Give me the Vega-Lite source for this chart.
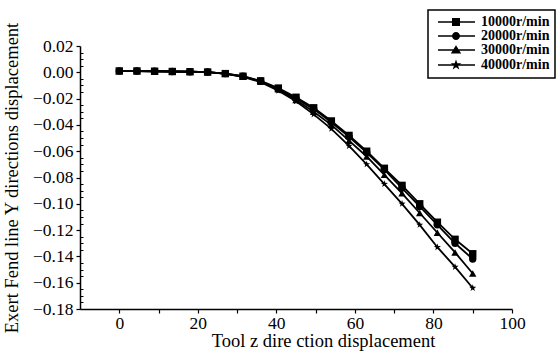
{
  "$schema": "https://vega.github.io/schema/vega-lite/v6.json",
  "width": 432,
  "height": 263,
  "padding": {"left": 2, "top": 9, "right": 3, "bottom": 2},
  "datasets": {
    "d": [
      {"x": 0, "y": 0.001, "s": "10000r/min"}, {"x": 4.5, "y": 0.001, "s": "10000r/min"}, {"x": 9, "y": 0.0008, "s": "10000r/min"}, {"x": 13.5, "y": 0.0006, "s": "10000r/min"}, {"x": 18, "y": 0.0004, "s": "10000r/min"}, {"x": 22.5, "y": 0.0002, "s": "10000r/min"}, {"x": 27, "y": -0.001, "s": "10000r/min"}, {"x": 31.5, "y": -0.003, "s": "10000r/min"}, {"x": 36, "y": -0.0065, "s": "10000r/min"}, {"x": 40.5, "y": -0.012, "s": "10000r/min"}, {"x": 45, "y": -0.019, "s": "10000r/min"}, {"x": 49.5, "y": -0.027, "s": "10000r/min"}, {"x": 54, "y": -0.037, "s": "10000r/min"}, {"x": 58.5, "y": -0.048, "s": "10000r/min"}, {"x": 63, "y": -0.060, "s": "10000r/min"}, {"x": 67.5, "y": -0.073, "s": "10000r/min"}, {"x": 72, "y": -0.086, "s": "10000r/min"}, {"x": 76.5, "y": -0.100, "s": "10000r/min"}, {"x": 81, "y": -0.114, "s": "10000r/min"}, {"x": 85.5, "y": -0.127, "s": "10000r/min"}, {"x": 90, "y": -0.138, "s": "10000r/min"},
      {"x": 0, "y": 0.001, "s": "20000r/min"}, {"x": 4.5, "y": 0.001, "s": "20000r/min"}, {"x": 9, "y": 0.0008, "s": "20000r/min"}, {"x": 13.5, "y": 0.0006, "s": "20000r/min"}, {"x": 18, "y": 0.0004, "s": "20000r/min"}, {"x": 22.5, "y": 0.0002, "s": "20000r/min"}, {"x": 27, "y": -0.001, "s": "20000r/min"}, {"x": 31.5, "y": -0.003, "s": "20000r/min"}, {"x": 36, "y": -0.0068, "s": "20000r/min"}, {"x": 40.5, "y": -0.0125, "s": "20000r/min"}, {"x": 45, "y": -0.020, "s": "20000r/min"}, {"x": 49.5, "y": -0.028, "s": "20000r/min"}, {"x": 54, "y": -0.038, "s": "20000r/min"}, {"x": 58.5, "y": -0.049, "s": "20000r/min"}, {"x": 63, "y": -0.061, "s": "20000r/min"}, {"x": 67.5, "y": -0.074, "s": "20000r/min"}, {"x": 72, "y": -0.088, "s": "20000r/min"}, {"x": 76.5, "y": -0.102, "s": "20000r/min"}, {"x": 81, "y": -0.116, "s": "20000r/min"}, {"x": 85.5, "y": -0.130, "s": "20000r/min"}, {"x": 90, "y": -0.142, "s": "20000r/min"},
      {"x": 0, "y": 0.001, "s": "30000r/min"}, {"x": 4.5, "y": 0.001, "s": "30000r/min"}, {"x": 9, "y": 0.0008, "s": "30000r/min"}, {"x": 13.5, "y": 0.0006, "s": "30000r/min"}, {"x": 18, "y": 0.0004, "s": "30000r/min"}, {"x": 22.5, "y": 0.0002, "s": "30000r/min"}, {"x": 27, "y": -0.001, "s": "30000r/min"}, {"x": 31.5, "y": -0.0032, "s": "30000r/min"}, {"x": 36, "y": -0.007, "s": "30000r/min"}, {"x": 40.5, "y": -0.013, "s": "30000r/min"}, {"x": 45, "y": -0.021, "s": "30000r/min"}, {"x": 49.5, "y": -0.030, "s": "30000r/min"}, {"x": 54, "y": -0.040, "s": "30000r/min"}, {"x": 58.5, "y": -0.052, "s": "30000r/min"}, {"x": 63, "y": -0.064, "s": "30000r/min"}, {"x": 67.5, "y": -0.078, "s": "30000r/min"}, {"x": 72, "y": -0.092, "s": "30000r/min"}, {"x": 76.5, "y": -0.107, "s": "30000r/min"}, {"x": 81, "y": -0.122, "s": "30000r/min"}, {"x": 85.5, "y": -0.137, "s": "30000r/min"}, {"x": 90, "y": -0.153, "s": "30000r/min"},
      {"x": 0, "y": 0.001, "s": "40000r/min"}, {"x": 4.5, "y": 0.001, "s": "40000r/min"}, {"x": 9, "y": 0.0008, "s": "40000r/min"}, {"x": 13.5, "y": 0.0006, "s": "40000r/min"}, {"x": 18, "y": 0.0004, "s": "40000r/min"}, {"x": 22.5, "y": 0.0002, "s": "40000r/min"}, {"x": 27, "y": -0.0012, "s": "40000r/min"}, {"x": 31.5, "y": -0.0035, "s": "40000r/min"}, {"x": 36, "y": -0.0075, "s": "40000r/min"}, {"x": 40.5, "y": -0.014, "s": "40000r/min"}, {"x": 45, "y": -0.022, "s": "40000r/min"}, {"x": 49.5, "y": -0.032, "s": "40000r/min"}, {"x": 54, "y": -0.043, "s": "40000r/min"}, {"x": 58.5, "y": -0.056, "s": "40000r/min"}, {"x": 63, "y": -0.070, "s": "40000r/min"}, {"x": 67.5, "y": -0.085, "s": "40000r/min"}, {"x": 72, "y": -0.100, "s": "40000r/min"}, {"x": 76.5, "y": -0.116, "s": "40000r/min"}, {"x": 81, "y": -0.133, "s": "40000r/min"}, {"x": 85.5, "y": -0.148, "s": "40000r/min"}, {"x": 90, "y": -0.164, "s": "40000r/min"}
    ]
  },
  "data": {"name": "d"},
  "layer": [
    {
      "mark": {"type": "line", "color": "black", "strokeWidth": 1.8},
      "encoding": {
        "x": {"field": "x", "type": "quantitative", "scale": {"domain": [-10, 100], "nice": false, "zero": false},
              "axis": {"title": "Tool z dire ction displacement", "values": [0, 10, 20, 30, 40, 50, 60, 70, 80, 90, 100], "labelExpr": "datum.value % 20 == 0 ? datum.label : ''", "labelFlush": false, "tickSize": 4, "labelPadding": 1, "titlePadding": 0, "titleX": 243}},
        "y": {"field": "y", "type": "quantitative", "scale": {"domain": [-0.18, 0.02], "nice": false, "zero": false},
              "axis": {"title": "Exert Fend line Y directions displacement", "values": [-0.18, -0.16, -0.14, -0.12, -0.1, -0.08, -0.06, -0.04, -0.02, 0, 0.02], "format": ".2f", "labelFlush": false, "tickSize": 4, "labelPadding": 3, "titlePadding": 11}},
        "detail": {"field": "s"}
      }
    },
    {
      "mark": {"type": "point", "filled": true, "color": "black", "opacity": 1},
      "encoding": {
        "x": {"field": "x", "type": "quantitative"},
        "y": {"field": "y", "type": "quantitative", "axis": null},
        "shape": {"field": "s", "type": "nominal", "legend": null,
                  "scale": {"domain": ["10000r/min", "20000r/min", "30000r/min", "40000r/min"],
                            "range": ["square", "circle", "triangle-up", "M0,-1L0.235,-0.324L0.951,-0.309L0.38,0.124L0.588,0.809L0,0.4L-0.588,0.809L-0.38,0.124L-0.951,-0.309L-0.235,-0.324Z"]}},
        "size": {"field": "s", "type": "nominal", "legend": null,
                 "scale": {"domain": ["10000r/min", "20000r/min", "30000r/min", "40000r/min"], "range": [55, 55, 70, 140]}}
      }
    },
    {
      "mark": {"type": "point", "filled": true, "color": "black", "opacity": 0},
      "encoding": {
        "x": {"field": "x", "type": "quantitative"},
        "y": {"field": "y", "type": "quantitative",
              "axis": {"orient": "left", "title": null, "labels": false, "domain": false, "tickSize": -3, "tickWidth": 1,
                       "values": [-0.175, -0.17, -0.165, -0.155, -0.15, -0.145, -0.135, -0.13, -0.125, -0.115, -0.11, -0.105, -0.095, -0.09, -0.085, -0.075, -0.07, -0.065, -0.055, -0.05, -0.045, -0.035, -0.03, -0.025, -0.015, -0.01, -0.005, 0.005, 0.01, 0.015]}},
        "shape": {"field": "s", "type": "nominal",
                  "scale": {"domain": ["10000r/min", "20000r/min", "30000r/min", "40000r/min"],
                            "range": ["M-0.5,-0.18L8.75,-0.18L8.75,0.18L-0.5,0.18ZM3,-1L5,-1L5,1L3,1Z",
                                      "M-0.5,-0.18L8.75,-0.18L8.75,0.18L-0.5,0.18ZM5,0A1,1,0,1,1,3,0A1,1,0,1,1,5,0Z",
                                      "M-0.5,-0.18L8.75,-0.18L8.75,0.18L-0.5,0.18ZM4,-1.2L5.3,0.9L2.7,0.9Z",
                                      "M-0.5,-0.18L8.75,-0.18L8.75,0.18L-0.5,0.18ZM4,-1.4L4.329,-0.453L5.331,-0.433L4.532,0.173L4.823,1.133L4,0.56L3.177,1.133L3.468,0.173L2.669,-0.433L3.671,-0.453Z"]},
                  "legend": {"title": null, "orient": "none", "legendX": 348, "legendY": -36,
                             "symbolSize": 64, "symbolOpacity": 1, "symbolFillColor": "black",
                             "labelOffset": 34, "labelFont": "Liberation Serif", "labelFontWeight": "bold", "labelFontSize": 14, "labelColor": "black",
                             "padding": 5, "rowPadding": -1, "strokeColor": "black", "fillColor": "white"}}
      }
    }
  ],
  "resolve": {"scale": {"shape": "independent", "size": "independent"}, "axis": {"y": "independent"}},
  "config": {
    "view": {"stroke": null},
    "legend": {"strokeWidth": 1.5},
    "axis": {"grid": false, "labelFont": "Liberation Serif", "labelFontSize": 17.5, "labelColor": "black",
             "titleFont": "Liberation Serif", "titleFontSize": 18.5, "titleFontWeight": "normal", "titleColor": "black",
             "domainColor": "black", "domainWidth": 1.5, "tickColor": "black", "tickWidth": 1.2}
  }
}
